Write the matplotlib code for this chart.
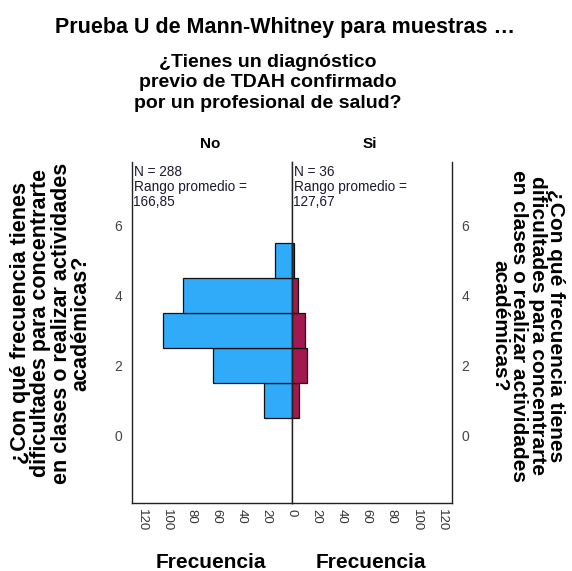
import matplotlib
matplotlib.use("Agg")
import matplotlib.pyplot as plt

plt.rcParams['font.family'] = ['Liberation Sans', 'DejaVu Sans']

categories = [1, 2, 3, 4, 5]
no_counts = [22, 63, 103, 87, 13]
si_counts = [6, 12, 11, 5, 2]
y_ticks = [0, 2, 4, 6]
x_ticks_left = [0, 20, 40, 60, 80, 100, 120]
x_ticks_right = [20, 40, 60, 80, 100, 120]
groups = ["No", "Si"]
n_labels = ["N = 288\nRango promedio =\n166,85", "N = 36\nRango promedio =\n127,67"]
title = "Prueba U de Mann-Whitney para muestras …"
subtitle = "¿Tienes un diagnóstico\nprevio de TDAH confirmado\npor un profesional de salud?"
ylabel = "¿Con qué frecuencia tienes\ndificultades para concentrarte\nen clases o realizar actividades\nacadémicas?"
xlabel = "Frecuencia"

W, H = 572, 571
fig = plt.figure(figsize=(W / 100, H / 100), dpi=100)

def fx(px):
    return px / W

def fy(py):
    return 1 - py / H

x0, xm, x1 = 131.7, 291.7, 451.7
ytop, ybot = 162, 503
axL = fig.add_axes([fx(x0), fy(ybot), fx(xm - x0), (ybot - ytop) / H])
axR = fig.add_axes([fx(xm), fy(ybot), fx(x1 - xm), (ybot - ytop) / H])

blue = '#30abf9'
maroon = '#a1194f'
axL.barh(categories, no_counts, height=1.0, color=blue, edgecolor='#111111', linewidth=0.9)
axR.barh(categories, si_counts, height=1.0, color=maroon, edgecolor='#111111', linewidth=0.9)

ylim = (-1.94, 7.8)
for ax in (axL, axR):
    ax.set_ylim(*ylim)
    ax.spines['top'].set_visible(False)
    for s in ('left', 'right', 'bottom'):
        ax.spines[s].set_linewidth(1.0)
        ax.spines[s].set_color('#222222')
    ax.tick_params(length=0)
    ax.set_yticks(y_ticks)

axL.set_xlim(128, 0)
axR.set_xlim(0, 128)
axL.set_xticks(x_ticks_left)
axR.set_xticks(x_ticks_right)
for ax in (axL, axR):
    ax.set_xticklabels([str(v) for v in ax.get_xticks()], rotation=-90, fontsize=9.5, color='#333333')
    ax.tick_params(axis='x', pad=4)

axL.yaxis.tick_left()
axL.set_yticklabels([str(v) for v in y_ticks], fontsize=10, color='#444444')
axL.tick_params(axis='y', pad=7)
axR.yaxis.tick_right()
axR.set_yticklabels([str(v) for v in y_ticks], fontsize=10, color='#444444')
axR.tick_params(axis='y', pad=7)

fig.text(fx(285), fy(28), title, ha='center', va='center', fontsize=15.5, fontweight='bold')
fig.text(fx(268), fy(83), subtitle, ha='center', va='center', fontsize=14, fontweight='bold',
         linespacing=1.26)
fig.text(fx(210), fy(144), groups[0], ha='center', va='center', fontsize=11, fontweight='bold')
fig.text(fx(370), fy(144), groups[1], ha='center', va='center', fontsize=11, fontweight='bold')
fig.text(fx(133.5), fy(165), n_labels[0], ha='left', va='top', fontsize=9.8, color='#1a1a30',
         linespacing=1.1)
fig.text(fx(293.5), fy(165), n_labels[1], ha='left', va='top', fontsize=9.8, color='#1a1a30',
         linespacing=1.1)
fig.text(fx(211), fy(562), xlabel, ha='center', va='center', fontsize=15, fontweight='bold')
fig.text(fx(371), fy(562), xlabel, ha='center', va='center', fontsize=15, fontweight='bold')
fig.text(fx(51), fy(323), ylabel, ha='center', va='center', rotation=90, fontsize=15.5,
         fontweight='bold', multialignment='center', linespacing=0.95)
fig.text(fx(528), fy(326), ylabel, ha='center', va='center', rotation=-90, fontsize=15,
         fontweight='bold', multialignment='center', linespacing=0.97)

fig.savefig('out.png', dpi=100)
